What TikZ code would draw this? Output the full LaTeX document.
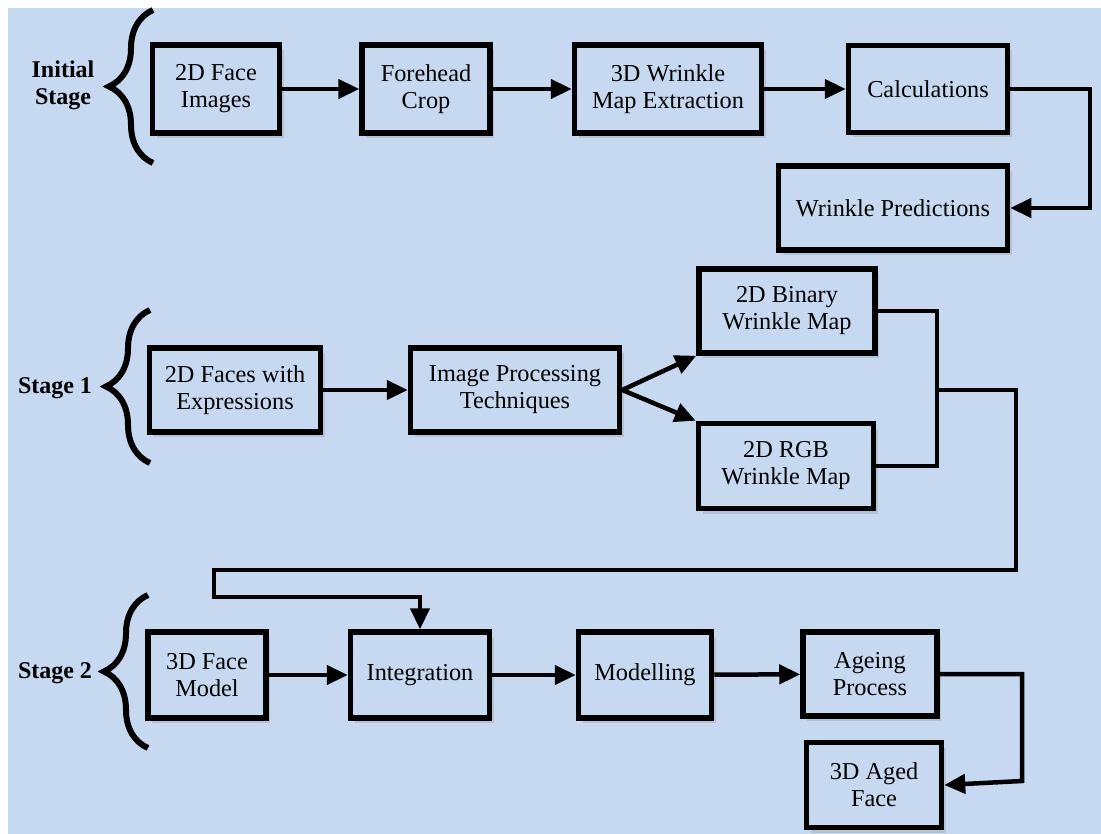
\documentclass[tikz,border=0pt]{standalone}
\usepackage{fontspec}
\setmainfont{Liberation Serif}
\usetikzlibrary{arrows.meta,shadows,decorations.pathreplacing}
\definecolor{panelblue}{RGB}{198,217,240}

\newcommand{\StageBrace}[2]{
    \draw[black, line width=6pt, decorate, decoration={brace, amplitude=44pt}] (#1) -- (#2);
}

\begin{document}
\begin{tikzpicture}[x=1pt, y=-1pt,
        box/.style={rectangle, draw=black, line width=5.5pt, fill=panelblue, align=center, inner sep=0pt,
            font=\fontsize{24.3}{27}\selectfont,
            drop shadow={shadow xshift=4pt, shadow yshift=-5pt, opacity=0.25}},
        stagelbl/.style={align=center, font=\bfseries\fontsize{24}{27}\selectfont},
        link/.style={black, line width=4.5pt, -{Triangle[length=21pt, width=19pt]}},
        wire/.style={black, line width=4.5pt}]
    \useasboundingbox (0,0) rectangle (1101,834);
    \fill[panelblue] (8,8) rectangle (1101,834);

    \node (initlbl) at (63,85) [stagelbl] {Initial\\Stage};
    \node (onelbl) at (55,388) [stagelbl] {Stage 1};
    \node (twolbl) at (55,673) [stagelbl] {Stage 2};

    \coordinate (initbot) at (153,163);
    \coordinate (inittop) at (153,10);
    \coordinate (onebot) at (150,463);
    \coordinate (onetop) at (150,310);
    \coordinate (twobot) at (148,748);
    \coordinate (twotop) at (148,595);
    \StageBrace{initbot}{inittop}
    \StageBrace{onebot}{onetop}
    \StageBrace{twobot}{twotop}

    \node (faceimg) at (216,89) [box, minimum width=127, minimum height=88] {2D Face\\Images};
    \node (crop) at (426,89) [box, minimum width=128, minimum height=88] {Forehead\\Crop};
    \node (wrinkle) at (668,89) [box, minimum width=187, minimum height=88] {3D Wrinkle\\Map Extraction};
    \node (calc) at (928,89) [box, minimum width=159, minimum height=87] {Calculations};
    \node (predict) at (893,208) [box, minimum width=229, minimum height=84] {Wrinkle Predictions};

    \node (faces) at (235,390) [box, minimum width=171, minimum height=84] {2D Faces with\\Expressions};
    \node (improc) at (515,390) [box, minimum width=209, minimum height=84] {Image Processing\\Techniques};
    \node (binary) at (787,311) [box, minimum width=176, minimum height=84] {2D Binary\\Wrinkle Map};
    \node (rgb) at (786,466) [box, minimum width=175, minimum height=85] {2D RGB\\Wrinkle Map};

    \node (face3d) at (207,675) [box, minimum width=118, minimum height=86] {3D Face\\Model};
    \node (integ) at (420,675) [box, minimum width=139, minimum height=86] {Integration};
    \node (model) at (645,675) [box, minimum width=133, minimum height=86] {Modelling};
    \node (ageing) at (870,674) [box, minimum width=134, minimum height=84] {Ageing\\Process};
    \node (aged) at (874,785) [box, minimum width=135, minimum height=85] {3D Aged\\Face};

    \draw[link] (faceimg) -- (crop);
    \draw[link] (crop) -- (wrinkle);
    \draw[link] (wrinkle) -- (calc);
    \coordinate (calcturn) at (1090,208);
    \draw[link] (calc.east) -| (calcturn) -- (predict.east);

    \draw[link] (faces) -- (improc);
    \draw[link] (improc.east) -- (binary.south west);
    \draw[link] (improc.east) -- (rgb.north west);
    \coordinate (join) at (937,390);
    \draw[wire] (binary.east) -| (join) |- (rgb.east);
    \coordinate (turna) at (1016,570);
    \coordinate (turnb) at (214,597);
    \draw[link] (join) -| (turna) -| (turnb) -| (integ.north);

    \draw[link] (face3d) -- (integ);
    \draw[link] (integ) -- (model);
    \draw[link] (model) -- (ageing);
    \coordinate (ageturn) at (1022,781);
    \draw[link] (ageing.east) -| (ageturn) -- (aged.east);
\end{tikzpicture}
\end{document}
